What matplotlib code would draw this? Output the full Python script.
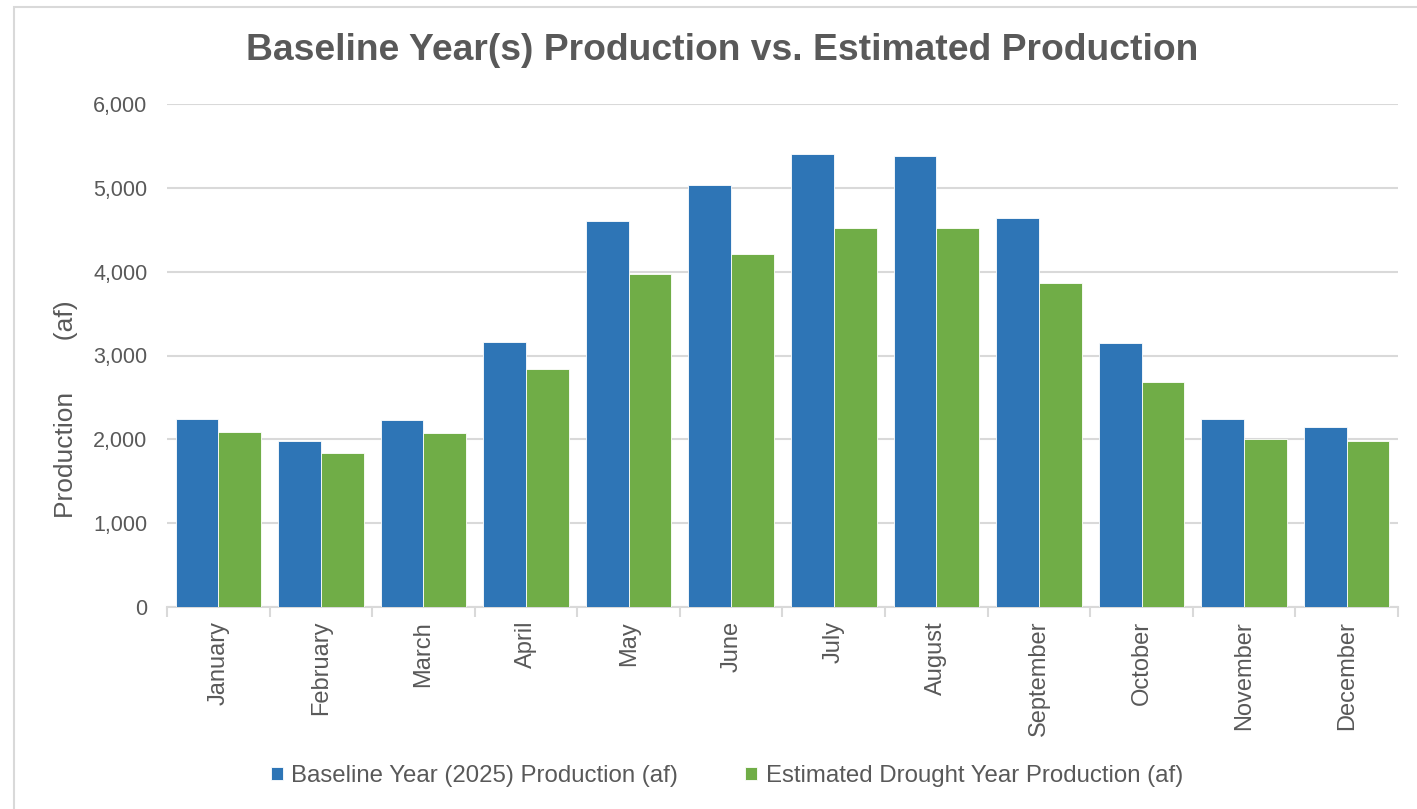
import numpy as np
import matplotlib
matplotlib.use("Agg")
import matplotlib.pyplot as plt
from matplotlib.patches import Rectangle
from matplotlib.ticker import FuncFormatter, FixedLocator

# ---- data (af) ----
months = ["January", "February", "March", "April", "May", "June",
          "July", "August", "September", "October", "November", "December"]
baseline = [2240, 1985, 2225, 3165, 4610, 5035, 5400, 5385, 4645, 3150, 2245, 2145]
drought = [2085, 1835, 2080, 2840, 3975, 4205, 4520, 4520, 3870, 2680, 2000, 1985]

BLUE = "#2E75B6"
GREEN = "#70AD47"
TEXT = "#595959"
GRID = "#D9D9D9"

plt.rcParams["font.family"] = ["Liberation Sans", "DejaVu Sans"]

fig = plt.figure(figsize=(14.17, 8.09), dpi=100)
fig.patch.set_facecolor("white")

# chart-area outline
fig.patches.append(Rectangle((14 / 1417, -0.1), 1.2, 1 - 7 / 809 + 0.1,
                             transform=fig.transFigure, fill=False,
                             edgecolor=GRID, lw=1.5, zorder=0))

ax = fig.add_axes([167 / 1417, 1 - 607 / 809, (1398 - 167) / 1417, (607 - 104) / 809])

x = np.arange(len(months))
w = 1 / 2.4
ax.bar(x - w / 2, baseline, w, color=BLUE, edgecolor="white", linewidth=0.6,
       label="Baseline Year (2025) Production (af)", zorder=3)
ax.bar(x + w / 2, drought, w, color=GREEN, edgecolor="white", linewidth=0.6,
       label="Estimated Drought Year Production (af)", zorder=3)

ax.set_xlim(-0.5, len(months) - 0.5)
ax.set_ylim(0, 6000)
ax.set_yticks(np.arange(0, 6001, 1000))
ax.yaxis.set_major_formatter(FuncFormatter(lambda v, p: f"{int(v):,}"))
ax.grid(axis="y", color=GRID, lw=1.5, zorder=0)
ax.set_axisbelow(True)

ax.set_xticks(x)
ax.set_xticklabels(months, rotation=90, fontsize=17, color=TEXT)
ax.xaxis.set_minor_locator(FixedLocator(np.arange(-0.5, len(months), 1)))
ax.tick_params(axis="x", which="major", length=0, pad=10)
ax.tick_params(axis="x", which="minor", length=7, width=1.5, color=GRID)
ax.tick_params(axis="y", length=0, pad=14, labelsize=15.5, labelcolor=TEXT)

for side in ("top", "right", "left"):
    ax.spines[side].set_visible(False)
ax.spines["bottom"].set_color(GRID)
ax.spines["bottom"].set_linewidth(1.5)

ax.set_ylabel("Production       (af)", fontsize=19, color=TEXT)
ax.yaxis.set_label_coords(-0.072, 0.394)

fig.text(722 / 1417, 1 - 50 / 809,
         "Baseline Year(s) Production vs. Estimated Production",
         ha="center", va="center", fontsize=26.8, fontweight="bold", color=TEXT)

handles, labels = ax.get_legend_handles_labels()
fig.legend(handles, labels, loc="center", ncol=2,
           bbox_to_anchor=(727 / 1417, 1 - 776 / 809), frameon=False,
           fontsize=17.3, labelcolor=TEXT, handlelength=0.5, handleheight=0.5,
           handletextpad=0.35, columnspacing=2.8)

fig.savefig("out.png", dpi=100, facecolor="white")
